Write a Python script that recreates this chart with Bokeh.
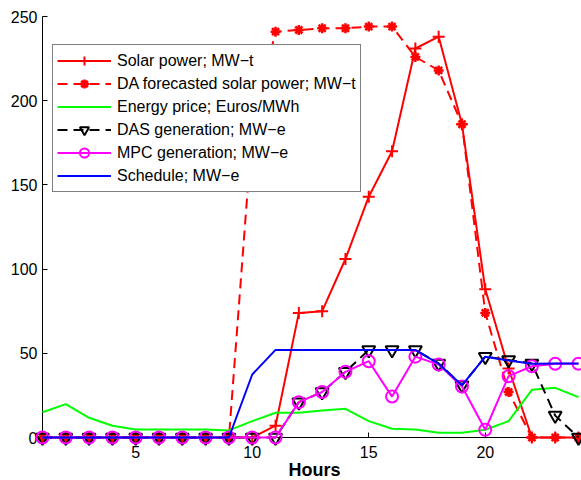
from bokeh.plotting import figure
from bokeh.models import Range1d, Legend, LegendItem, FixedTicker
from bokeh.core.properties import value
from bokeh.embed import file_html
from bokeh.resources import INLINE

hours = list(range(1, 25))
solar_power = [0, 0, 0, 0, 0, 0, 0, 0, 0, 0, 7, 74, 75, 106, 143, 170, 231, 238, 186, 88, 41, 0, 0, 0]
da_forecast = [0, 0, 0, 0, 0, 0, 0, 0, 0, 183, 241, 242, 243, 243, 244, 244, 226, 218, 186, 74, 27, 0, 0, 0]
energy_price = [15, 19.8, 11.7, 7, 4.7, 4.7, 4.7, 4.7, 4.2, 9.7, 14.7, 14.7, 16, 17, 9.7, 5.2, 4.7, 2.8, 2.8, 4.6, 9.7, 28.3, 29.5, 24]
das_generation = [0, 0, 0, 0, 0, 0, 0, 0, 0, 0, 0, 21, 27, 39, 52, 52, 52, 44, 31, 48, 46, 44, 13, 0]
mpc_generation = [0, 0, 0, 0, 0, 0, 0, 0, 0, 0, 0, 21, 27, 39, 45.3, 24.3, 48, 43.3, 30.3, 4.6, 36.4, 42.3, 43.8, 43.8]
schedule = [0, 0, 0, 0, 0, 0, 0, 0, 0, 37.4, 52, 52, 52, 52, 52, 52, 52, 43.8, 31, 48, 45.7, 43.8, 44, 44]

x_ticks = [5, 10, 15, 20]
y_ticks = [0, 50, 100, 150, 200, 250]
labels = ["Solar power; MW\u2212t", "DA forecasted solar power; MW\u2212t", "Energy price; Euros/MWh",
          "DAS generation; MW\u2212e", "MPC generation; MW\u2212e", "Schedule; MW\u2212e"]
x_title = "Hours"

FONT = "Liberation Sans"

p = figure(width=581, height=480, output_backend="svg", toolbar_location=None,
           x_range=Range1d(1, 24), y_range=Range1d(0, 250),
           min_border_left=42, min_border_right=3, min_border_top=16, min_border_bottom=43)
p.outline_line_color = None
p.grid.visible = False

for ax in (p.xaxis[0], p.yaxis[0]):
    ax.axis_line_color = "black"
    ax.axis_line_width = 1
    ax.major_tick_in = 5
    ax.major_tick_out = 0
    ax.minor_tick_in = 0
    ax.minor_tick_out = 0
    ax.major_tick_line_color = "black"
    ax.major_label_text_font = FONT
    ax.major_label_text_font_size = "16px"
    ax.major_label_text_color = "black"
p.xaxis.ticker = FixedTicker(ticks=x_ticks)
p.yaxis.ticker = FixedTicker(ticks=y_ticks)
p.xaxis.major_label_standoff = 8
p.yaxis.major_label_standoff = 5

DASH = "10 6"
lv = "overlay"

s_l = p.line(hours, solar_power, line_color="#FF0000", line_width=2, level=lv)
s_m = p.scatter(hours, solar_power, marker="cross", size=12, line_color="#FF0000", line_width=2, level=lv)

d_l = p.line(hours, da_forecast, line_color="#FF0000", line_width=2, line_dash=DASH, level=lv)
d_m = p.scatter(hours, da_forecast, marker="asterisk", size=10, line_color="#FF0000", line_width=2.5, level=lv)

e_l = p.line(hours, energy_price, line_color="#00FF00", line_width=2, level=lv)

g_l = p.line(hours, das_generation, line_color="black", line_width=2, line_dash=DASH, level=lv)
g_m = p.scatter(hours, das_generation, marker="inverted_triangle", size=13, line_color="black",
                fill_alpha=0, line_width=2, level=lv)

m_l = p.line(hours, mpc_generation, line_color="#FF00FF", line_width=2, level=lv)
m_m = p.scatter(hours, mpc_generation, marker="circle", size=12, line_color="#FF00FF",
                fill_alpha=0, line_width=2, level=lv)

c_l = p.line(hours, schedule, line_color="#0000FF", line_width=2, level=lv)

# x-axis title, drawn below the axis (centered on the x range)
p.text(x=[(1 + 24) / 2], y=[0], text=[x_title], x_offset=4, y_offset=32,
       text_font=value(FONT), text_font_size="18px", text_font_style="bold",
       text_color="black", text_align="center", text_baseline="middle", level=lv)

legend = Legend(items=[
    LegendItem(label=labels[0], renderers=[s_l, s_m]),
    LegendItem(label=labels[1], renderers=[d_l, d_m]),
    LegendItem(label=labels[2], renderers=[e_l]),
    LegendItem(label=labels[3], renderers=[g_l, g_m]),
    LegendItem(label=labels[4], renderers=[m_l, m_m]),
    LegendItem(label=labels[5], renderers=[c_l]),
], location=(10, 245), level="overlay")
legend.label_text_font = FONT
legend.label_text_font_size = "16px"
legend.label_text_color = "black"
legend.border_line_color = "black"
legend.border_line_width = 1
legend.background_fill_color = "white"
legend.background_fill_alpha = 1
legend.padding = 4
legend.spacing = 0
legend.label_height = 23
legend.glyph_height = 23
legend.glyph_width = 54
legend.label_standoff = 6
legend.margin = 0
legend.title_standoff = 0
p.renderers.append(legend)

open("out.html", "w").write(file_html(p, INLINE))
